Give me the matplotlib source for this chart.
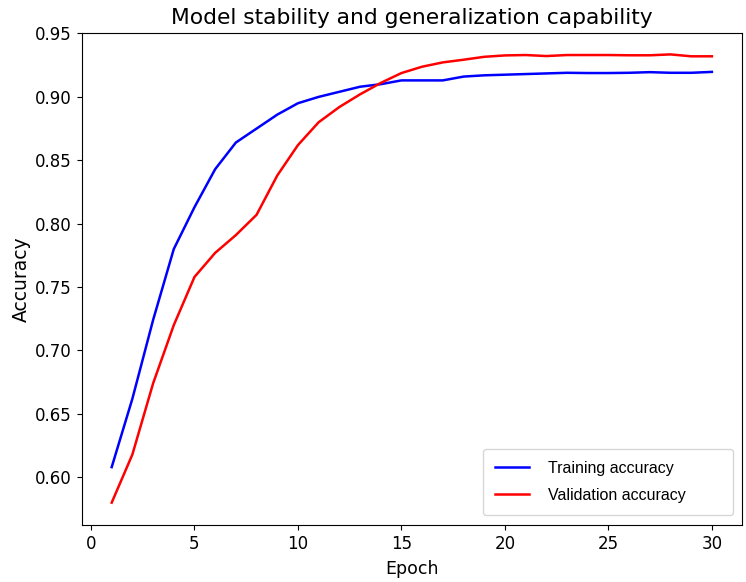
import matplotlib
matplotlib.use('Agg')
import matplotlib.pyplot as plt

epochs = list(range(1, 31))
train_acc = [0.608, 0.662, 0.724, 0.780, 0.813, 0.843, 0.864, 0.875, 0.886, 0.895,
             0.900, 0.904, 0.908, 0.910, 0.913, 0.913, 0.913, 0.916, 0.917, 0.9175,
             0.918, 0.9185, 0.919, 0.9188, 0.9188, 0.919, 0.9195, 0.919, 0.919, 0.9197]
val_acc = [0.580, 0.618, 0.674, 0.720, 0.758, 0.777, 0.791, 0.807, 0.838, 0.862,
           0.880, 0.892, 0.902, 0.911, 0.9188, 0.9238, 0.9272, 0.9293, 0.9316, 0.9327,
           0.933, 0.9322, 0.933, 0.933, 0.933, 0.9328, 0.9328, 0.9335, 0.932, 0.932]

fig = plt.figure(figsize=(7.46, 5.82), dpi=100)
ax = fig.add_axes([0.1095, 0.098, 0.885, 0.846])

ax.plot(epochs, train_acc, color='blue', linewidth=1.8, label='Training accuracy')
ax.plot(epochs, val_acc, color='red', linewidth=1.8, label='Validation accuracy')

ax.set_title('Model stability and generalization capability', fontsize=15.7)
ax.set_xlabel('Epoch', fontsize=12.5, labelpad=5)
ax.set_ylabel('Accuracy', fontsize=13.5, labelpad=3)
ax.tick_params(labelsize=12)
ax.set_yticks([0.60, 0.65, 0.70, 0.75, 0.80, 0.85, 0.90, 0.95])
ax.set_ylim(0.5624, 0.9507)

# legend box is wider than its text in the original, so stretch it over a fixed box
ax.legend(loc='lower right', prop={'family': 'Liberation Sans', 'size': 11.5},
          bbox_to_anchor=(0.608, 0.0203, 0.3786, 0.124), mode='expand',
          borderaxespad=0, borderpad=0.75, labelspacing=0.75,
          handlelength=2.1, handletextpad=1.2)

fig.savefig('out.png', dpi=100)
